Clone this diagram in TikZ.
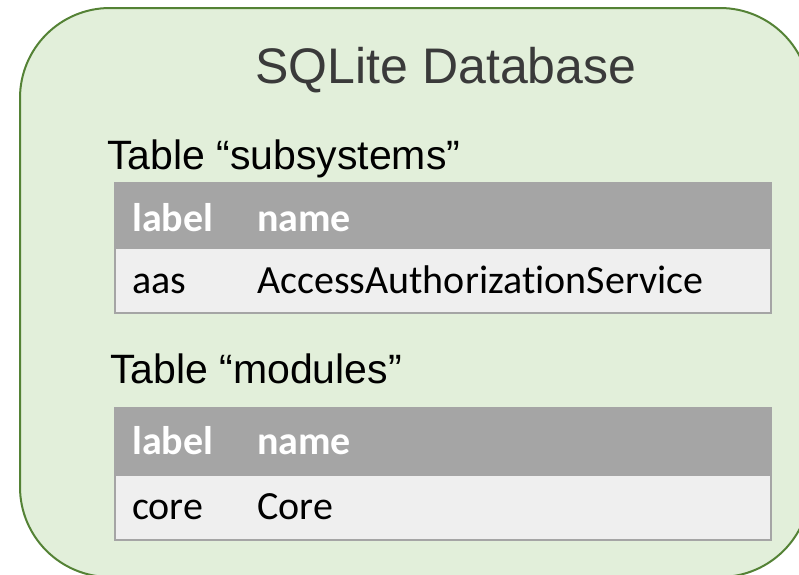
\documentclass[tikz,border=0pt]{standalone}
\usepackage{fontspec}
\setmainfont{Liberation Sans}
\newfontfamily\calfont[Ligatures={NoCommon}]{Carlito}
\definecolor{boxfill}{HTML}{E2EFDA}
\definecolor{boxline}{HTML}{548235}
\definecolor{hdrfill}{HTML}{A5A5A5}
\definecolor{rowfill}{HTML}{EFEFEF}
\definecolor{titlecol}{HTML}{3A3A3A}
\tikzset{
  outerbox/.style={fill=boxfill, draw=boxline, line width=2pt, rounded corners=90pt},
  hdrbox/.style={fill=hdrfill, draw=none},
  rowbox/.style={fill=rowfill, draw=hdrfill, line width=2pt},
  titletext/.style={inner sep=0pt, anchor=base, text=titlecol, font=\fontsize{50}{50}\selectfont},
  tabletitle/.style={inner sep=0pt, anchor=base west, text=black, font=\fontsize{41}{41}\selectfont},
  hdrtext/.style={inner sep=0pt, anchor=base west, text=white, font=\calfont\bfseries\fontsize{40}{40}\selectfont},
  celltext/.style={inner sep=0pt, anchor=base west, text=black, font=\calfont\fontsize{40}{40}\selectfont}
}
\begin{document}
\begin{tikzpicture}[x=1pt,y=-1pt]
\useasboundingbox (0,0) rectangle (799,574);
\clip (0,0) rectangle (799,574);
\draw[outerbox] (20,8) rectangle (810,577);
\node[titletext] (title) at (446,83) {SQLite Database};
% table subsystems
\node[tabletitle] (t1title) at (107,169) {Table “subsystems”};
\fill[hdrbox] (114,182) rectangle (772,248);
\draw[rowbox] (115,248) rectangle (771,313);
\node[hdrtext] (t1h1) at (132,231) {label};
\node[hdrtext] (t1h2) at (257,231) {name};
\node[celltext] (t1c1) at (132,293) {aas};
\node[celltext] (t1c2) at (257,293) {AccessAuthorizationService};
% table modules
\node[tabletitle] (t2title) at (110,383) {Table “modules”};
\fill[hdrbox] (114,407) rectangle (772,475);
\draw[rowbox] (115,475) rectangle (771,540);
\node[hdrtext] (t2h1) at (132,454) {label};
\node[hdrtext] (t2h2) at (257,454) {name};
\node[celltext] (t2c1) at (132,519) {core};
\node[celltext] (t2c2) at (257,519) {Core};
\end{tikzpicture}
\end{document}
